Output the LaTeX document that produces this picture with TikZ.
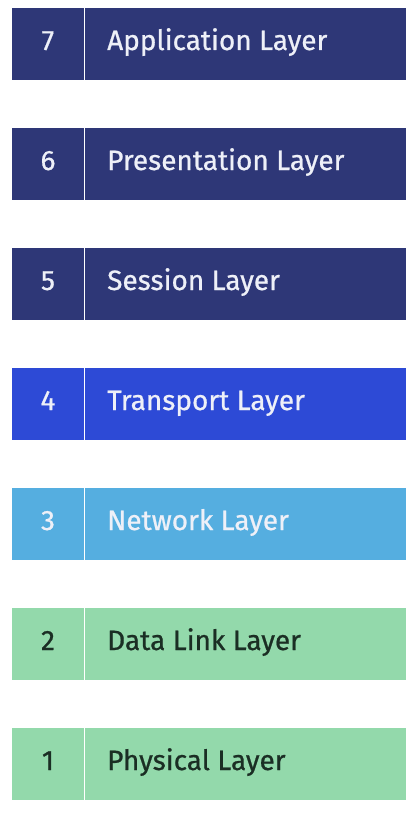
\documentclass[tikz,border=0pt]{standalone}
\usepackage{fontspec}
\setmainfont{Fira Sans}
\newfontfamily\labelfont{Fira Sans}[FakeBold=0.7]
\definecolor{navy}{HTML}{2E3777}
\definecolor{transport}{HTML}{2D4AD6}
\definecolor{netblue}{HTML}{55AEE0}
\definecolor{mint}{HTML}{93D9AB}
\definecolor{darkink}{HTML}{1B2E24}
\definecolor{lightink}{HTML}{EEF0F8}
\begin{document}
\begin{tikzpicture}[x=1pt,y=-1pt,
  bar/.style={fill=#1, draw=none},
  labeltxt/.style={font=\labelfont\fontsize{28}{31}\selectfont, inner sep=0pt},
  divider/.style={draw=white, line width=1.8pt}]
\useasboundingbox (0,0) rectangle (416,816);
\foreach \n/\name/\col/\ink [count=\i from 0] in {
    7/Application Layer/navy/lightink,
    6/Presentation Layer/navy/lightink,
    5/Session Layer/navy/lightink,
    4/Transport Layer/transport/lightink,
    3/Network Layer/netblue/lightink,
    2/Data Link Layer/mint/darkink,
    1/Physical Layer/mint/darkink} {
  \pgfmathsetmacro{\top}{8+120*\i}
  \fill[bar=\col] (12,\top) rectangle (406,\top+72);
  \draw[divider] (84.5,\top) -- (84.5,\top+72);
  \node[labeltxt, anchor=base west, text=\ink] (name\n) at (107,\top+42) {\name};
  \node[labeltxt, anchor=base, text=\ink] (num\n) at (48,\top+42) {\n};
}
\end{tikzpicture}
\end{document}
